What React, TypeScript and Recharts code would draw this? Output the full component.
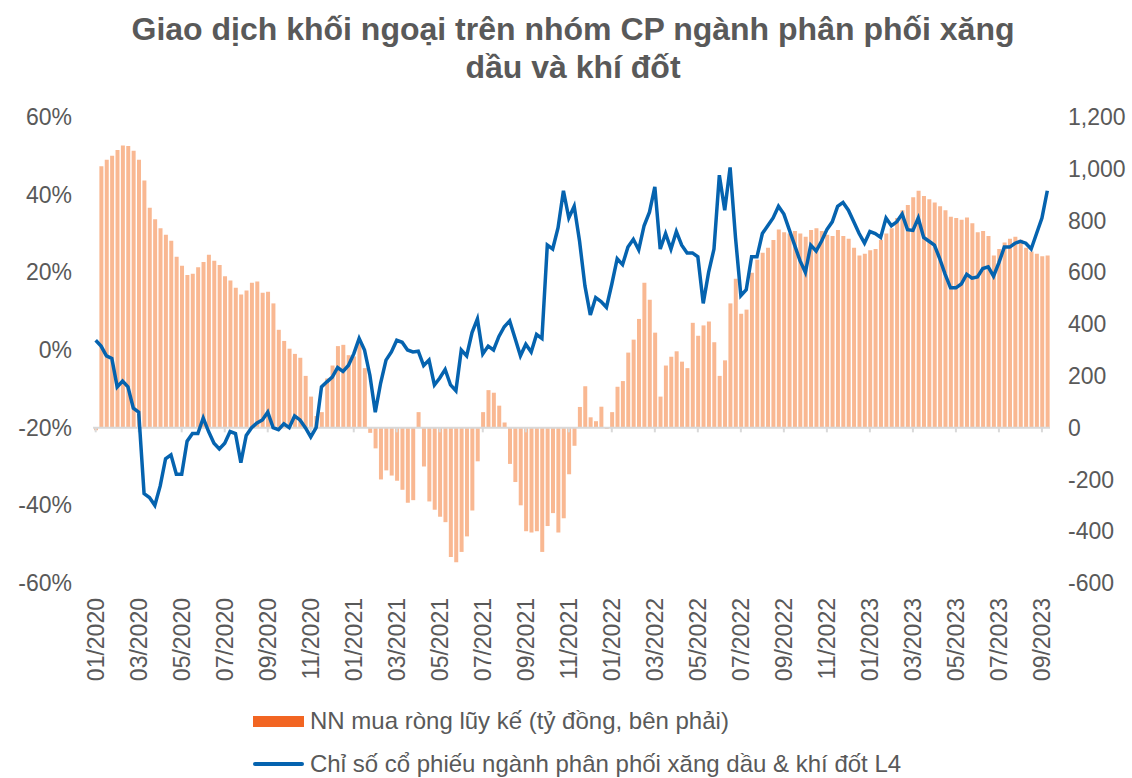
import React from 'react';
import { ComposedChart, Bar, Line, XAxis, YAxis, ReferenceLine } from 'recharts';

// month labels, 4 weekly points per month (Sep 2023 only partly covered)
const months = [
  '01/2020', '02/2020', '03/2020', '04/2020', '05/2020', '06/2020', '07/2020', '08/2020', '09/2020', '10/2020', '11/2020', '12/2020',
  '01/2021', '02/2021', '03/2021', '04/2021', '05/2021', '06/2021', '07/2021', '08/2021', '09/2021', '10/2021', '11/2021', '12/2021',
  '01/2022', '02/2022', '03/2022', '04/2022', '05/2022', '06/2022', '07/2022', '08/2022', '09/2022', '10/2022', '11/2022', '12/2022',
  '01/2023', '02/2023', '03/2023', '04/2023', '05/2023', '06/2023', '07/2023', '08/2023', '09/2023',
];
const pointsPerMonth = 4;
const lastMonthPoints = 2;

// NN mua ròng lũy kế (tỷ đồng) - right axis
const netBuy = [
  -10, 1010, 1035, 1050, 1073, 1090, 1088, 1070, 1035, 955,
  849, 805, 770, 745, 722, 660, 625, 590, 595, 620,
  640, 668, 645, 628, 585, 568, 540, 514, 530, 560,
  565, 521, 525, 480, 378, 335, 305, 285, 270, 200,
  120, 45, 60, 190, 240, 315, 320, 280, 275, 325,
  230, -20, -80, -200, -165, -185, -205, -240, -290, -280,
  60, -150, -285, -317, -344, -365, -500, -520, -480, -420,
  -320, -130, 60, 145, 135, 85, 20, -140, -210, -300,
  -400, -405, -400, -480, -380, -330, -405, -350, -180, -70,
  80, 160, 40, 25, 81, -5, 60, 158, 180, 290,
  340, 420, 560, 494, 367, 120, 240, 274, 295, 255,
  230, 405, 355, 395, 410, 330, 200, 260, 480, 575,
  440, 456, 598, 649, 676, 695, 725, 765, 755, 750,
  760, 750, 737, 764, 770, 760, 745, 740, 764, 740,
  730, 695, 665, 672, 685, 690, 726, 750, 770, 810,
  840, 860, 890, 915, 895, 882, 870, 855, 840, 815,
  810, 803, 812, 790, 755, 760, 740, 665, 690, 715,
  730, 737, 726, 695, 680, 672, 662, 665,
];

// Chỉ số cổ phiếu ngành (% thay đổi) - left axis
const sectorIndex = [
  2.5, 1.0, -1.5, -2.2, -9.5, -8, -9.5, -15, -16, -37,
  -38, -40, -35, -28, -27, -32, -32, -23.5, -21.5, -21.5,
  -17.5, -21, -24, -25.5, -24, -21, -21.5, -29, -22, -20,
  -18.8, -18, -16, -20, -20.5, -19, -20, -17, -18, -20,
  -22.4, -20, -9.5, -8.2, -7, -4.5, -5.5, -4, -1, 3,
  0, -6.5, -16, -8.5, -2.6, -0.5, 2.5, 2, 0, -0.5,
  -0.3, -4, -2.6, -9, -7.2, -5, -9, -10.5, 0, -1.5,
  4.5, 8, -1, 1, 0, 3.5, 6, 7.5, 3, -1.5,
  1.5, -0.5, 4, 3, 27, 26, 31.5, 41, 34, 37,
  28, 16.5, 9, 13.5, 12.5, 11, 17, 23.5, 22, 26.5,
  28.5, 25.8, 32, 35.5, 42, 26, 30, 26, 30.5, 27,
  25, 25, 24, 12, 20, 26, 45, 36, 47, 29,
  14, 15.5, 24, 24, 30, 32, 34, 37, 35, 31,
  27, 23, 20, 27, 25.5, 28, 31, 33, 37, 38,
  36, 33, 30, 27.5, 30.5, 30, 29, 34, 32, 33,
  35, 31, 30.8, 34, 29, 28, 27, 23.5, 19.5, 16,
  16, 17, 19.5, 18.5, 18.8, 21, 21.4, 19, 22.5, 26.5,
  26.5, 27.5, 28, 27.5, 26, 30, 34, 41,
];

const leftTicks = [-60, -40, -20, 0, 20, 40, 60];
const rightTicks = [-600, -400, -200, 0, 200, 400, 600, 800, 1000, 1200];

const keys: string[] = [];
months.forEach((m, mi) => {
  const n = mi === months.length - 1 ? lastMonthPoints : pointsPerMonth;
  for (let k = 0; k < n; k++) keys.push(`${m}#${k}`);
});

const data = keys.map((key, i) => ({ key, nn: netBuy[i], idx: sectorIndex[i] }));
const tickKeys = keys.filter((_, i) => i % 8 === 0);

const TEXT = '#595959';
const FONT = '"Liberation Sans", Arial, sans-serif';

const XTick = (props: any) => {
  const { x, y, payload } = props;
  return (
    <text
      transform={`translate(${x},${y}) rotate(-90)`}
      textAnchor="end"
      dominantBaseline="central"
      fontSize={23}
      fill={TEXT}
      fontFamily={FONT}
    >
      {String(payload.value).split('#')[0]}
    </text>
  );
};

const App: React.FC = () => {
  return (
    <div style={{ position: 'relative', width: 1132, height: 778, background: '#fff', fontFamily: FONT }}>
      <style>{'body{margin:0}'}</style>
      <div
        style={{
          position: 'absolute', top: 10, left: 0, width: 1146, textAlign: 'center',
          fontSize: 32, fontWeight: 700, color: TEXT, lineHeight: '38px',
        }}
      >
        Giao dịch khối ngoại trên nhóm CP ngành phân phối xăng<br />dầu và khí đốt
      </div>

      <div style={{ position: 'absolute', top: 0, left: 0 }}>
        <ComposedChart width={1132} height={700} data={data} margin={{ top: 117, right: 0, bottom: 0, left: 0 }}>
          <XAxis
            dataKey="key"
            ticks={tickKeys}
            interval={0}
            axisLine={false}
            tickLine={false}
            tickMargin={9}
            height={117}
            tick={<XTick />}
          />
          <YAxis
            yAxisId="left"
            domain={[-60, 60]}
            ticks={leftTicks}
            width={93}
            axisLine={false}
            tickLine={false}
            tickMargin={15}
            tick={{ fontSize: 23, fill: TEXT, fontFamily: FONT }}
            tickFormatter={(v: number) => `${v}%`}
          />
          <YAxis
            yAxisId="right"
            orientation="right"
            domain={[-600, 1200]}
            ticks={rightTicks}
            width={82}
            axisLine={false}
            tickLine={false}
            tickMargin={12}
            tick={{ fontSize: 23, fill: TEXT, fontFamily: FONT, textAnchor: 'start' }}
            tickFormatter={(v: number) => v.toLocaleString('en-US')}
          />
          <ReferenceLine yAxisId="right" y={0} stroke="#D9D9D9" strokeWidth={2} />
          {tickKeys.map((k) => (
            <ReferenceLine
              key={k}
              yAxisId="right"
              segment={[{ x: k, y: 0 }, { x: k, y: -18 }]}
              stroke="#D9D9D9"
              strokeWidth={2}
            />
          ))}
          <Bar yAxisId="right" dataKey="nn" fill="#F9B892" barSize={4} isAnimationActive={false} />
          <Line
            yAxisId="left"
            type="linear"
            dataKey="idx"
            stroke="#0563AF"
            strokeWidth={3.5}
            dot={false}
            isAnimationActive={false}
          />
        </ComposedChart>
      </div>

      <div style={{ position: 'absolute', left: 253, top: 707, display: 'flex', alignItems: 'center', fontSize: 24, color: TEXT }}>
        <div style={{ width: 51, height: 11, background: '#F26522', marginRight: 6 }} />
        NN mua ròng lũy kế (tỷ đồng, bên phải)
      </div>
      <div style={{ position: 'absolute', left: 253, top: 750, display: 'flex', alignItems: 'center', fontSize: 24, color: TEXT }}>
        <div style={{ width: 51, height: 4, background: '#0563AF', marginRight: 6, borderRadius: 2 }} />
        Chỉ số cổ phiếu ngành phân phối xăng dầu &amp; khí đốt L4
      </div>
    </div>
  );
};

export default App;
